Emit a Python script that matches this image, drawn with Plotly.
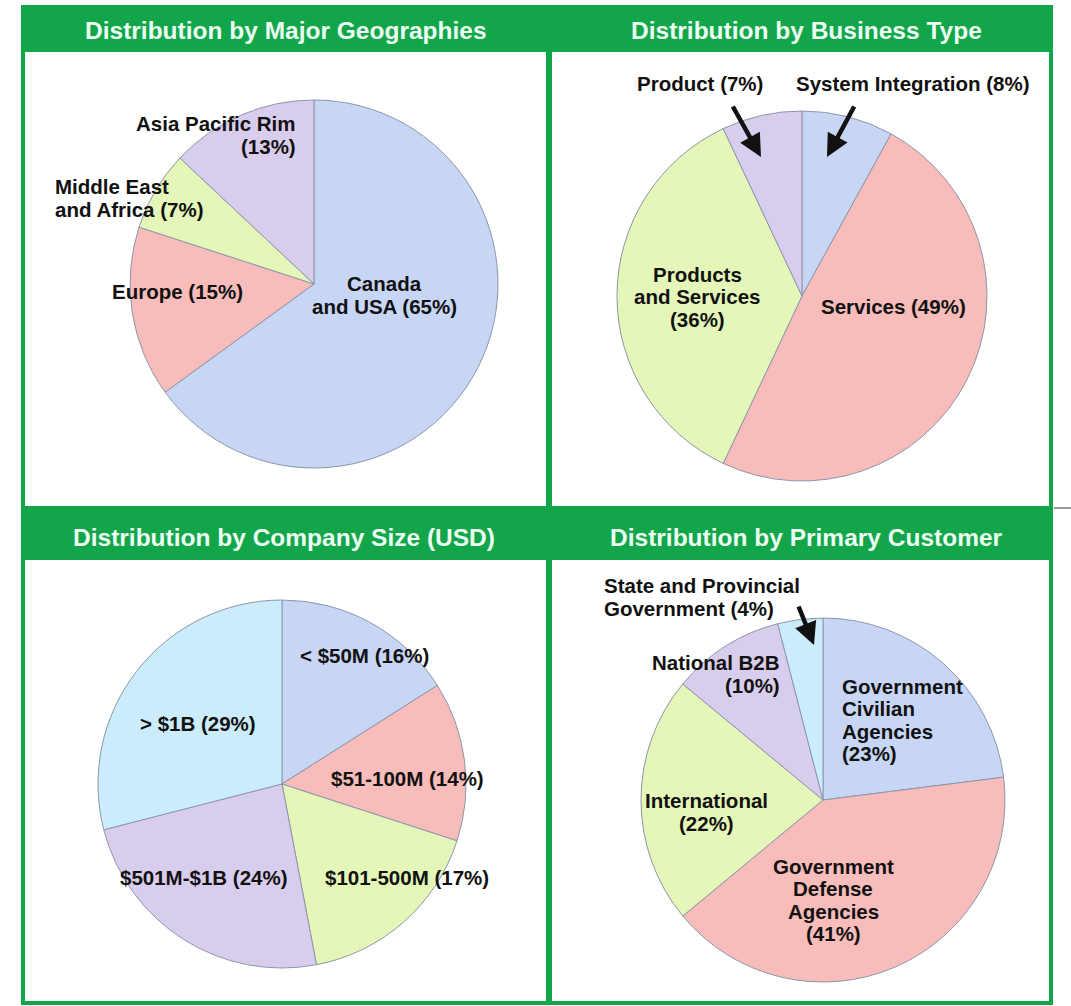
import plotly.graph_objects as go

W, H = 1071, 1006

# ---------------- data ----------------
geo_labels = ["Canada and USA", "Europe", "Middle East and Africa", "Asia Pacific Rim"]
geo_values = [65, 15, 7, 13]
geo_display = ["Canada<br>and USA ({}%)", "Europe ({}%)", "Middle East<br>and Africa ({}%)", "Asia Pacific Rim<br>({}%)"]

biz_labels = ["System Integration", "Services", "Products and Services", "Product"]
biz_values = [8, 49, 36, 7]
biz_display = ["System Integration ({}%)", "Services ({}%)", "Products<br>and Services<br>({}%)", "Product ({}%)"]

size_labels = ["< $50M", "$51-100M", "$101-500M", "$501M-$1B", "> $1B"]
size_values = [16, 14, 17, 24, 29]
size_display = ["< $50M ({}%)", "$51-100M ({}%)", "$101-500M ({}%)", "$501M-$1B ({}%)", "> $1B ({}%)"]

cust_labels = ["Government Civilian Agencies", "Government Defense Agencies", "International",
               "National B2B", "State and Provincial Government"]
cust_values = [23, 41, 22, 10, 4]
cust_display = ["Government<br>Civilian<br>Agencies<br>({}%)", "Government<br>Defense<br>Agencies<br>({}%)",
                "International<br>({}%)", "National B2B<br>({}%)", "State and Provincial<br>Government ({}%)"]

titles = ["Distribution by Major Geographies", "Distribution by Business Type",
          "Distribution by Company Size (USD)", "Distribution by Primary Customer"]

# ---------------- styles ----------------
BLUE, RED, GREEN, PURPLE, CYAN = "#c8d6f6", "#f8bcba", "#e4f6b8", "#d9cdee", "#cbecfb"
EDGE = "#8d96aa"
FRAME = "#13a54a"
FONT = "Liberation Sans, Arial, sans-serif"

def px(x):
    return x / W

def py(y):
    return 1 - y / H

def domain(cx, cy, r):
    return dict(x=[px(cx - r), px(cx + r)], y=[py(cy + r), py(cy - r)])

fig = go.Figure()

pies = [
    (geo_labels, geo_values, [BLUE, RED, GREEN, PURPLE], (314, 284, 184)),
    (biz_labels, biz_values, [BLUE, RED, GREEN, PURPLE], (802, 296, 185)),
    (size_labels, size_values, [BLUE, RED, GREEN, PURPLE, CYAN], (282, 784, 184)),
    (cust_labels, cust_values, [BLUE, RED, GREEN, PURPLE, CYAN], (823, 800, 182)),
]
for labels, values, colors, (cx, cy, r) in pies:
    fig.add_trace(go.Pie(
        labels=labels, values=values, sort=False, direction="clockwise", rotation=0,
        textinfo="none", hoverinfo="label+percent", showlegend=False,
        marker=dict(colors=colors, line=dict(color=EDGE, width=1)),
        domain=domain(cx, cy, r),
    ))

# ---------------- frames ----------------
shapes = [
    dict(type="rect", xref="paper", yref="paper", x0=px(21), x1=px(1053), y0=py(1005), y1=py(5),
         fillcolor=FRAME, line=dict(width=0), layer="below"),
]
for (x0, x1, y0, y1) in [(25, 546, 52, 506), (552, 1049, 52, 506), (25, 546, 560, 1001), (552, 1049, 560, 1001)]:
    shapes.append(dict(type="rect", xref="paper", yref="paper", x0=px(x0), x1=px(x1), y0=py(y1), y1=py(y0),
                       fillcolor="white", line=dict(width=0), layer="below"))
shapes.append(dict(type="line", xref="paper", yref="paper", x0=px(1054), x1=px(1071), y0=py(508), y1=py(508),
                   line=dict(color="#333333", width=1)))

annotations = []
for t, (x, y) in zip(titles, [(286, 30), (806, 30), (284, 537), (806, 537)]):
    annotations.append(dict(text=t, x=px(x), y=py(y), xref="paper", yref="paper", showarrow=False,
                            xanchor="center", yanchor="middle",
                            font=dict(family=FONT, size=24.5, color="#ecfff3", weight="bold")))

LINE = 22.5

def add_label(text, x, y, anchor="center"):
    lines = text.split("<br>")
    n = len(lines)
    for i, ln in enumerate(lines):
        yy = y + (i - (n - 1) / 2) * LINE
        annotations.append(dict(text=ln, x=px(x), y=py(yy), xref="paper", yref="paper", showarrow=False,
                                xanchor=anchor, yanchor="middle",
                                font=dict(family=FONT, size=20.5, color="#111111", weight="bold")))

geo_pos = [(384, 295, "center"), (177, 292, "center"), (53, 198, "left"), (298, 135, "right")]
biz_pos = [(913, 84, "center"), (893, 306, "center"), (697, 297, "center"), (700, 84, "center")]
size_pos = [(364, 655, "center"), (407, 778, "center"), (407, 877, "center"), (204, 877, "center"), (198, 723, "center")]
cust_pos = [(840, 720, "left"), (833, 900, "center"), (706, 812, "center"), (782, 674, "right"), (602, 597, "left")]

for disp, vals, pos in [(geo_display, geo_values, geo_pos), (biz_display, biz_values, biz_pos),
                        (size_display, size_values, size_pos), (cust_display, cust_values, cust_pos)]:
    for d, v, (x, y, a) in zip(disp, vals, pos):
        add_label(d.format(v), x, y, a)

# arrows (tip, tail offset)
for (tx, ty, ax, ay) in [(761, 157, -29, -52), (827, 157, 28, -52), (814, 645, -16, -40)]:
    annotations.append(dict(x=px(tx), y=py(ty), xref="paper", yref="paper", text="", showarrow=True,
                            ax=ax, ay=ay, arrowhead=2, arrowsize=1, arrowwidth=4.5, arrowcolor="#111111",
                            standoff=0))

fig.update_layout(
    width=W, height=H, margin=dict(l=0, r=0, t=0, b=0),
    paper_bgcolor="white", plot_bgcolor="white",
    shapes=shapes, annotations=annotations,
)

fig.write_html("out.html")
